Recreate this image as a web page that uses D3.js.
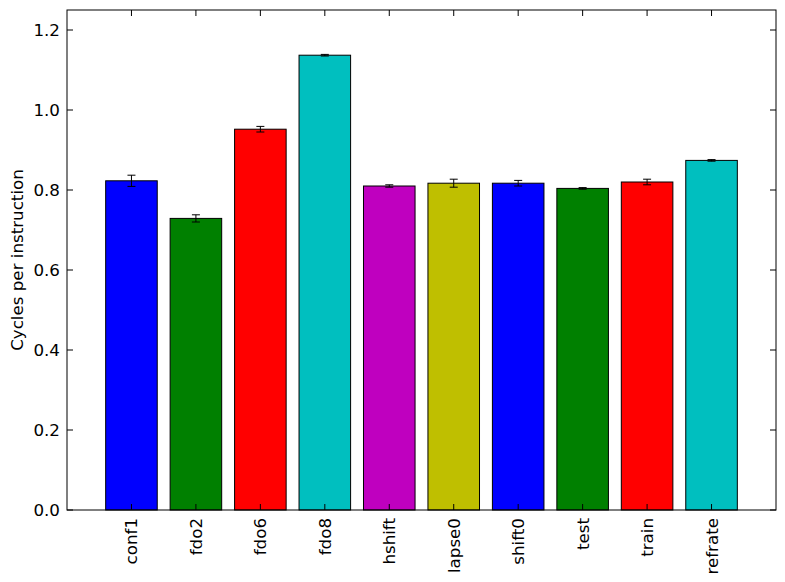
<!DOCTYPE html>
<html>
<head>
<meta charset="utf-8">
<script src="https://cdn.jsdelivr.net/npm/d3@7"></script>
<style>
  body { margin: 0; background: #fff; }
  text { font-family: "DejaVu Sans", sans-serif; }
</style>
</head>
<body>
<svg width="785" height="582"></svg>
<script>
var categories = ["conf1", "fdo2", "fdo6", "fdo8", "hshift", "lapse0", "shift0", "test", "train", "refrate"];
var values = [0.823, 0.729, 0.952, 1.137, 0.810, 0.817, 0.817, 0.804, 0.820, 0.874];
var errors = [0.014, 0.009, 0.007, 0.002, 0.003, 0.010, 0.007, 0.002, 0.007, 0.002];
var colors = ["#0000ff", "#008000", "#ff0000", "#00bfbf", "#bf00bf", "#bfbf00", "#0000ff", "#008000", "#ff0000", "#00bfbf"];
var yTicks = [0.0, 0.2, 0.4, 0.6, 0.8, 1.0, 1.2];

var svg = d3.select("svg");
var plotL = 67, plotR = 776, plotT = 10, plotB = 510;
var fontSize = 16.7;

var x = d3.scaleLinear().domain([-1, 10]).range([plotL, plotR]);
var y = d3.scaleLinear().domain([0, 1.25]).range([plotB, plotT]);
var barW = x(0.8) - x(0);

var bars = svg.append("g");
bars.selectAll("rect")
  .data(values)
  .enter()
  .append("rect")
  .attr("x", function (d, i) { return x(i - 0.4); })
  .attr("y", function (d) { return y(d); })
  .attr("width", barW)
  .attr("height", function (d) { return y(0) - y(d); })
  .attr("fill", function (d, i) { return colors[i]; })
  .attr("stroke", "#000")
  .attr("stroke-width", 1);

// error bars
var eb = svg.append("g").attr("stroke", "#000").attr("stroke-width", 1);
values.forEach(function (v, i) {
  var cx = x(i), lo = y(v - errors[i]), hi = y(v + errors[i]);
  eb.append("line").attr("x1", cx).attr("x2", cx).attr("y1", lo).attr("y2", hi);
  eb.append("line").attr("x1", cx - 4).attr("x2", cx + 4).attr("y1", lo).attr("y2", lo);
  eb.append("line").attr("x1", cx - 4).attr("x2", cx + 4).attr("y1", hi).attr("y2", hi);
});

// ticks inside on all four sides
var tk = svg.append("g").attr("stroke", "#000").attr("stroke-width", 1);
yTicks.forEach(function (t) {
  tk.append("line").attr("x1", plotL).attr("x2", plotL + 6).attr("y1", y(t)).attr("y2", y(t));
  tk.append("line").attr("x1", plotR - 6).attr("x2", plotR).attr("y1", y(t)).attr("y2", y(t));
});
categories.forEach(function (c, i) {
  tk.append("line").attr("x1", x(i)).attr("x2", x(i)).attr("y1", plotB).attr("y2", plotB - 6);
  tk.append("line").attr("x1", x(i)).attr("x2", x(i)).attr("y1", plotT).attr("y2", plotT + 6);
});

svg.append("rect")
  .attr("x", plotL).attr("y", plotT)
  .attr("width", plotR - plotL).attr("height", plotB - plotT)
  .attr("fill", "none").attr("stroke", "#000").attr("stroke-width", 1);

svg.append("g").selectAll("text")
  .data(yTicks)
  .enter()
  .append("text")
  .attr("x", plotL - 7)
  .attr("y", function (d) { return y(d); })
  .attr("dy", "0.36em")
  .attr("text-anchor", "end")
  .attr("font-size", fontSize)
  .text(function (d) { return d.toFixed(1); });

svg.append("g").selectAll("text")
  .data(categories)
  .enter()
  .append("text")
  .attr("transform", function (d, i) { return "translate(" + x(i) + "," + (plotB + 8) + ") rotate(-90)"; })
  .attr("dy", "0.36em")
  .attr("text-anchor", "end")
  .attr("font-size", fontSize)
  .text(function (d) { return d; });

svg.append("text")
  .attr("transform", "translate(23," + ((plotT + plotB) / 2) + ") rotate(-90)")
  .attr("text-anchor", "middle")
  .attr("font-size", fontSize)
  .text("Cycles per instruction");
</script>
</body>
</html>
